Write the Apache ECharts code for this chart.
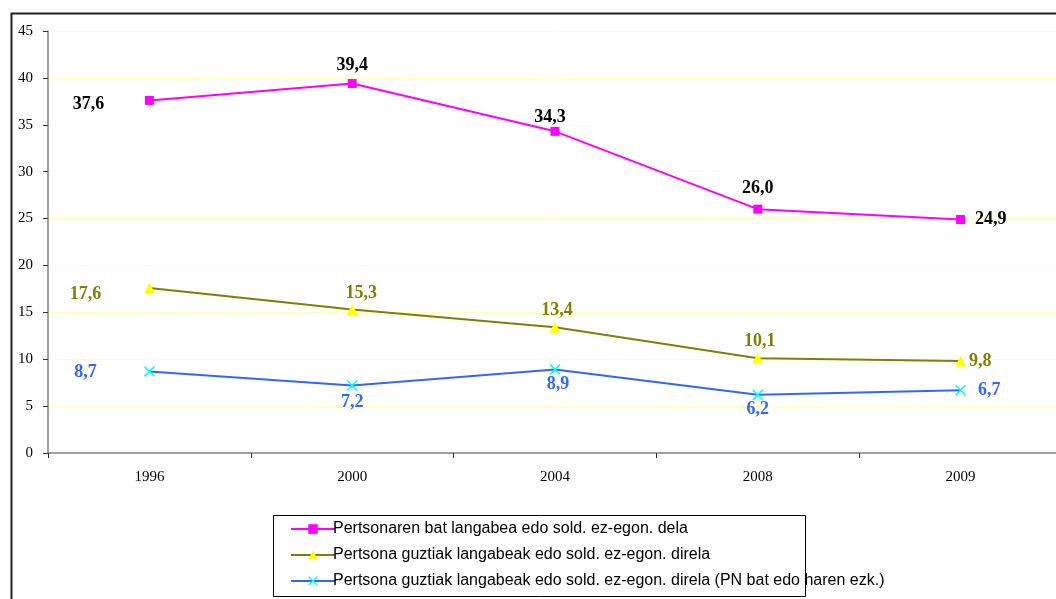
<!DOCTYPE html>
<html>
<head>
<meta charset="utf-8">
<style>
  html, body { margin: 0; padding: 0; background: #fff; }
  #chart { width: 1056px; height: 599px; }
</style>
<script src="https://cdn.jsdelivr.net/npm/echarts@6/dist/echarts.min.js"></script>
</head>
<body>
<div id="chart"></div>
<script>
const years = ['1996', '2000', '2004', '2008', '2009']

const seriesNames = [
  'Pertsonaren bat langabea edo sold. ez-egon. dela',
  'Pertsona guztiak langabeak edo sold. ez-egon. direla',
  'Pertsona guztiak langabeak edo sold. ez-egon. direla (PN bat edo haren ezk.)',
]

const anyUnemployed = [37.6, 39.4, 34.3, 26.0, 24.9]
const allUnemployed = [17.6, 15.3, 13.4, 10.1, 9.8]
const allUnemployedPN = [8.7, 7.2, 8.9, 6.2, 6.7]

// label placement per point (kept apart from the values)
const labelPos1 = [
  { position: 'inside', offset: [-61, 4] },
  { position: 'top', distance: 5 },
  { position: 'top', distance: 0, offset: [-5, 0] },
  { position: 'top', distance: 7 },
  { position: 'right', distance: 10 },
]
const labelPos2 = [
  { position: 'inside', offset: [-64, 6] },
  { position: 'top', distance: 2, offset: [9, 0] },
  { position: 'top', distance: 2, offset: [2, 0] },
  { position: 'top', distance: 2, offset: [2, 0] },
  { position: 'right', distance: 3 },
]
const labelPos3 = [
  { position: 'inside', offset: [-64, 1] },
  { position: 'bottom', distance: 2 },
  { position: 'bottom', distance: 0, offset: [3, 0] },
  { position: 'bottom', distance: 0 },
  { position: 'right', distance: 12 },
]

const fmt = (v) => v.toFixed(1).replace('.', ',')

const buildData = (values, positions) =>
  values.map((v, i) => ({ value: v, label: positions[i] }))

const labelBase = (color) => ({
  show: true,
  color: color,
  fontFamily: '"Liberation Serif", "Times New Roman", serif',
  fontWeight: 'bold',
  fontSize: 18,
  formatter: (p) => fmt(p.value),
})

const crossPath = 'path://M0,1L1,0L5,4L9,0L10,1L6,5L10,9L9,10L5,6L1,10L0,9L4,5Z'

const chart = echarts.init(document.getElementById('chart'))

chart.setOption({
  animation: false,
  backgroundColor: '#fff',
  grid: {
    left: 48,
    top: 31,
    width: 1014,
    height: 422,
    containLabel: false,
    outerBoundsMode: 'none',
  },
  xAxis: {
    type: 'category',
    data: years,
    boundaryGap: true,
    axisLine: { lineStyle: { color: '#808080', width: 1.5 } },
    axisTick: { show: true, length: 5, lineStyle: { color: '#333' } },
    axisLabel: {
      color: '#000',
      fontFamily: '"Liberation Serif", "Times New Roman", serif',
      fontSize: 15,
      margin: 17,
    },
    splitLine: { show: false },
  },
  yAxis: {
    type: 'value',
    min: 0,
    max: 45,
    interval: 5,
    axisLine: { show: true, lineStyle: { color: '#808080', width: 1.5 } },
    axisTick: { show: true, length: 5, lineStyle: { color: '#333' } },
    axisLabel: {
      color: '#000',
      fontFamily: '"Liberation Serif", "Times New Roman", serif',
      fontSize: 15,
      margin: 15,
    },
    splitLine: { show: true, lineStyle: { color: '#ffffc0', width: 1 } },
  },
  legend: {
    orient: 'vertical',
    left: 285,
    top: 516,
    itemGap: 10,
    itemWidth: 44,
    itemHeight: 12,
    textStyle: {
      color: '#000',
      fontFamily: '"Liberation Sans", Arial, sans-serif',
      fontSize: 16,
      padding: [0, 0, 0, -7],
    },
    data: seriesNames,
  },
  graphic: [
    {
      type: 'rect',
      left: 9,
      top: 11,
      shape: { width: 1200, height: 700 },
      style: { fill: 'none', stroke: '#222', lineWidth: 2 },
      silent: true,
      z: 0,
    },
    {
      type: 'rect',
      left: 273,
      top: 515,
      shape: { width: 532, height: 81 },
      style: { fill: '#fff', stroke: '#000', lineWidth: 1 },
      silent: true,
      z: -1,
    },
  ],
  series: [
    {
      name: seriesNames[0],
      type: 'line',
      data: buildData(anyUnemployed, labelPos1),
      symbol: 'rect',
      symbolSize: 9,
      lineStyle: { color: '#ff00ff', width: 2 },
      itemStyle: { color: '#ff00ff' },
      label: labelBase('#000'),
      z: 5,
    },
    {
      name: seriesNames[1],
      type: 'line',
      data: buildData(allUnemployed, labelPos2),
      symbol: 'triangle',
      symbolSize: 11,
      lineStyle: { color: '#808000', width: 2 },
      itemStyle: { color: '#ffff00' },
      label: labelBase('#808000'),
      z: 4,
    },
    {
      name: seriesNames[2],
      type: 'line',
      data: buildData(allUnemployedPN, labelPos3),
      symbol: crossPath,
      symbolSize: 11,
      lineStyle: { color: '#3366ff', width: 2 },
      itemStyle: { color: '#00ffff' },
      label: labelBase('#3366ff'),
      z: 3,
    },
  ],
})
</script>
</body>
</html>
